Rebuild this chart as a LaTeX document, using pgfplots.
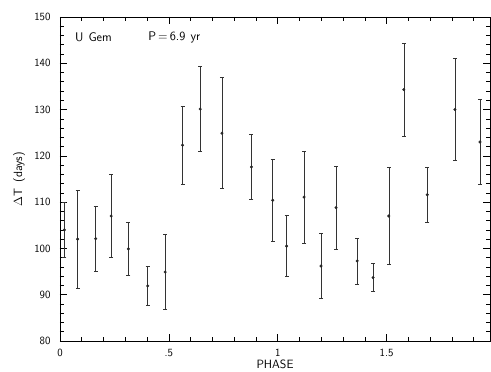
\documentclass[border=0pt]{standalone}
\renewcommand{\familydefault}{\sfdefault}
\usepackage{pgfplots}
\pgfplotsset{compat=1.18}
\usepackage{pgfplotstable}
\pgfplotstableread{
x y e
0.020 104.0 6.0
0.081 102.0 10.5
0.164 102.1 7.0
0.235 107.0 9.0
0.314 99.9 5.8
0.403 91.9 4.2
0.483 94.9 8.1
0.563 122.3 8.5
0.644 130.1 9.2
0.744 124.9 12.0
0.879 117.6 7.0
0.977 110.4 8.8
1.041 100.5 6.6
1.121 111.1 10.0
1.199 96.2 7.0
1.268 108.8 9.0
1.365 97.3 5.0
1.438 93.7 3.0
1.510 107.0 10.5
1.579 134.3 10.1
1.687 111.6 5.9
1.814 130.0 11.0
1.929 123.0 9.2
}\ugem
\begin{document}
\begin{tikzpicture}
\begin{axis}[
  scale only axis, width=430pt, height=324pt,
  xmin=0, xmax=1.975, ymin=80, ymax=150,
  xtick={0,0.5,1,1.5}, xticklabels={0,.5,1,1.5},
  minor xtick={0.1,0.2,0.3,0.4,0.6,0.7,0.8,0.9,1.1,1.2,1.3,1.4,1.6,1.7,1.8,1.9},
  ytick={80,90,...,150}, minor ytick={82,84,...,148},
  tick align=inside, major tick length=7pt, minor tick length=4pt,
  every tick/.append style={black, line width=0.6pt},
  ticklabel style={font=\fontsize{11}{13}\selectfont},
  xticklabel style={yshift=-5pt},
  yticklabel style={xshift=-6pt},
  /pgf/number format/assume math mode=true,
  xlabel={PHASE}, ylabel={$\Delta$T\, (days)},
  label style={font=\fontsize{12}{14}\selectfont},
  xlabel style={at={(axis description cs:0.5,-0.071)}, anchor=center},
  ylabel style={at={(axis description cs:-0.095,0.5)}, anchor=center},
]
\addplot[only marks, mark=*, mark size=1.3pt, black!85,
  error bars/.cd, y dir=both, y explicit,
  error bar style={black!80, line width=0.5pt},
  error mark options={rotate=90, black!80, mark size=2pt, line width=0.5pt}]
  table[x=x, y=y, y error=e] {\ugem};
\node[anchor=west, inner sep=0pt, font=\fontsize{12.5}{14}\selectfont] at (axis cs:0.069,145.6) {U\hspace{5pt}Gem};
\node[anchor=west, inner sep=0pt, font=\fontsize{12.5}{14}\selectfont] at (axis cs:0.405,145.6) {P\,=\,6.9\hspace{5pt}yr};
\end{axis}
\path ([xshift=-60pt,yshift=-31pt]current axis.south west) rectangle ([xshift=1pt,yshift=17pt]current axis.north east);
\end{tikzpicture}
\end{document}
